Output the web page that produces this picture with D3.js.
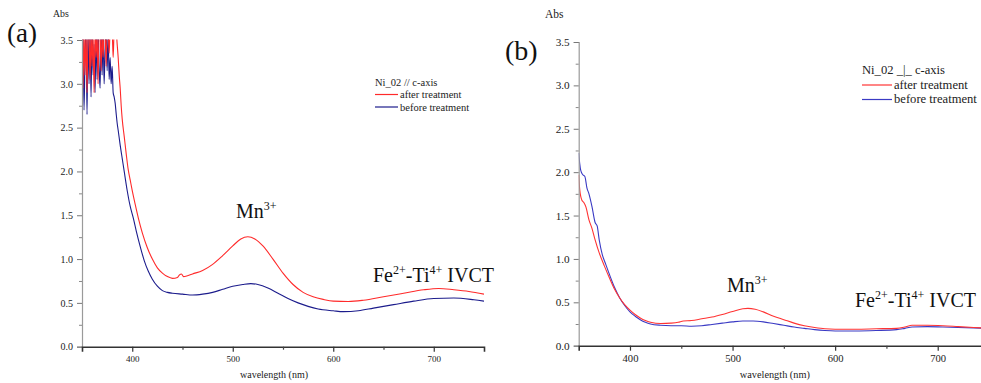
<!DOCTYPE html>
<html>
<head>
<meta charset="utf-8">
<script src="https://cdn.jsdelivr.net/npm/d3@7"></script>
<style>
  body { margin: 0; background: #fff; }
  svg { display: block; }
  svg text { font-family: "Liberation Serif", "Tinos", "DejaVu Serif", serif; }
</style>
</head>
<body>
<svg id="chart" width="981" height="383"></svg>
<script>
// Absorbance spectra of Ni_02 before and after treatment, two polarisations.
const yTicks = [0, 0.5, 1.0, 1.5, 2.0, 2.5, 3.0, 3.5];
const yMinorTicks = [0.25, 0.75, 1.25, 1.75, 2.25, 2.75, 3.25];
const xTicks = [400, 500, 600, 700];
const xMinorTicks = [450, 550, 650];
const seriesNames = ["after treatment", "before treatment"];
const panelTitles = ["Ni_02 // c-axis", "Ni_02 _|_ c-axis"];

// [wavelength (nm), Abs] — E // c
const aAfter = [
  [350,3.6],[351,2.95],[352,3.6],[353,3.1],[354,3.6],[355,2.9],[356,3.55],[357,3.6],[358,3.05],[359,3.6],
  [360,3.2],[361,3.6],[362,2.9],[363,3.6],[364,3.3],[365,3.6],[366,3.0],[367,3.6],[368,3.6],[369,3.15],
  [370,3.6],[371,3.3],[372,3.6],[373,3.6],[374,3.2],[375,3.6],[376,3.6],[377,3.35],[378,3.6],[379,3.6],
  [380,3.6],[381,3.3],[382,3.6],[383,3.6],[384,3.6],[385,3.45],[386,3.3],[387,3.1],[388,2.95],[389,2.75],
  [390,2.6],[392,2.4],[394,2.2],[396,2.02],[398,1.9],[400,1.78],[403,1.62],[406,1.47],[410,1.3],[415,1.13],
  [420,1.0],[425,0.9],[430,0.84],[435,0.8],[440,0.78],[445,0.79],[447,0.82],[449,0.83],[451,0.8],[455,0.81],
  [460,0.83],[470,0.87],[480,0.94],[490,1.04],[500,1.15],[508,1.23],[515,1.255],[522,1.23],[530,1.15],[540,1.0],
  [550,0.84],[560,0.71],[570,0.62],[580,0.57],[590,0.54],[600,0.52],[615,0.515],[630,0.53],[650,0.57],[670,0.61],
  [690,0.65],[705,0.665],[720,0.65],[735,0.63],[750,0.6]
];
const aBefore = [
  [350,2.75],[351,3.6],[352,2.7],[353,3.3],[354,3.6],[355,2.65],[356,3.6],[357,3.0],[358,3.6],[359,2.85],
  [360,3.6],[361,3.1],[362,3.45],[363,2.9],[364,3.6],[365,3.05],[366,3.6],[367,3.2],[368,2.95],[369,3.6],
  [370,3.1],[371,3.6],[372,3.0],[373,3.4],[374,3.6],[375,3.15],[376,3.6],[377,3.05],[378,3.3],[379,3.0],
  [380,3.2],[381,2.9],[382,2.85],[383,2.78],[384,2.66],[385,2.55],[386,2.47],[388,2.3],[390,2.15],[392,2.0],
  [395,1.78],[398,1.6],[401,1.47],[404,1.32],[408,1.14],[412,0.98],[416,0.86],[420,0.77],[425,0.69],[430,0.64],
  [435,0.62],[440,0.61],[450,0.6],[460,0.59],[470,0.6],[480,0.62],[490,0.655],[500,0.69],[510,0.71],[518,0.72],
  [525,0.71],[535,0.67],[545,0.61],[555,0.55],[565,0.5],[575,0.46],[585,0.43],[600,0.41],[610,0.4],[625,0.41],
  [640,0.44],[660,0.48],[680,0.52],[700,0.55],[720,0.555],[740,0.535],[750,0.52]
];
// [wavelength (nm), Abs] — E ⊥ c
const bAfter = [
  [350,1.97],[351,1.8],[352,1.72],[353,1.68],[355,1.65],[357,1.6],[360,1.45],[363,1.35],[366,1.22],[370,1.07],
  [375,0.92],[380,0.78],[385,0.65],[390,0.55],[395,0.47],[400,0.41],[405,0.36],[410,0.32],[415,0.29],[420,0.27],
  [430,0.255],[440,0.26],[447,0.27],[452,0.285],[460,0.29],[470,0.31],[480,0.33],[490,0.36],[500,0.395],[510,0.425],
  [515,0.43],[522,0.42],[530,0.39],[540,0.34],[550,0.3],[560,0.26],[570,0.23],[580,0.21],[590,0.195],[600,0.19],
  [620,0.19],[640,0.195],[660,0.2],[668,0.215],[675,0.235],[690,0.235],[705,0.23],[720,0.22],[735,0.21],[750,0.2]
];
const bBefore = [
  [350,2.22],[351,2.1],[352,2.02],[354,1.97],[356,1.95],[358,1.82],[360,1.75],[363,1.6],[366,1.42],[368,1.38],
  [370,1.22],[373,1.05],[376,0.95],[380,0.82],[385,0.67],[390,0.55],[395,0.46],[400,0.39],[405,0.34],[410,0.3],
  [415,0.27],[420,0.25],[430,0.235],[440,0.23],[450,0.23],[460,0.225],[470,0.23],[480,0.245],[490,0.26],[500,0.275],
  [510,0.285],[520,0.285],[530,0.275],[540,0.255],[550,0.235],[560,0.215],[570,0.2],[580,0.185],[590,0.175],[600,0.17],
  [620,0.17],[640,0.175],[660,0.185],[668,0.2],[675,0.215],[690,0.22],[705,0.215],[720,0.21],[735,0.205],[750,0.2]
];

const FONT = "'Liberation Serif', Tinos, 'DejaVu Serif', serif";
const svg = d3.select("#chart");

const panels = [
  {
    id: "a", letter: "(a)", letterX: 7, letterY: 42, letterSize: 27,
    absX: 53, absY: 17, absSize: 9.8,
    left: 82, right: 484, top: 40, bottom: 346.7,
    tickFont: 10, xTickFont: 9, xLabelY: 378, xLabelFont: 10,
    title: panelTitles[0], legX: 375, legY: 82, legGap: 12.5, legLine: 23, legFont: 10.5,
    after: aAfter, before: aBefore,
    colors: ["#ff2a2a", "#1c1c8c"],
    mn: { x: 236, y: 218 }, fe: { x: 373, y: 281.5 }
  },
  {
    id: "b", letter: "(b)", letterX: 505, letterY: 60, letterSize: 28,
    absX: 545, absY: 18, absSize: 11.5,
    left: 578.7, right: 989, top: 42, bottom: 345.7,
    tickFont: 11.2, xTickFont: 10.6, xLabelY: 378, xLabelFont: 10.3,
    title: panelTitles[1], legX: 862, legY: 70.5, legGap: 14.5, legLine: 30, legFont: 12.6,
    after: bAfter, before: bBefore,
    colors: ["#ff3333", "#3a3ac4"],
    mn: { x: 727, y: 291.5 }, fe: { x: 855, y: 306.5 }
  }
];

panels.forEach(p => {
  const g = svg.append("g").attr("class", "panel-" + p.id).attr("font-family", FONT);
  const x = d3.scaleLinear().domain([350, 750]).range([p.left, p.right]);
  const y = d3.scaleLinear().domain([0, 3.5]).range([p.bottom, p.top]);

  // plot-area clip so off-scale readings are cut at the top
  const clipId = "clip-" + p.id;
  svg.append("clipPath").attr("id", clipId)
    .append("rect")
    .attr("x", p.left).attr("y", p.top - 0.5)
    .attr("width", p.right - p.left).attr("height", p.bottom - p.top + 0.5);

  const line = d3.line()
    .x(d => x(d[0]))
    .y(d => y(d[1]))
    .curve(d3.curveMonotoneX);

  const curves = g.append("g").attr("clip-path", `url(#${clipId})`);
  [p.before, p.after].forEach((s, i) => {
    curves.append("path")
      .datum(s)
      .attr("fill", "none")
      .attr("stroke", i === 0 ? p.colors[1] : p.colors[0])
      .attr("stroke-width", 1.1)
      .attr("stroke-linejoin", "round")
      .attr("d", line);
  });

  // y axis (major + minor)
  const yAxis = g.append("g").attr("transform", `translate(${p.left},0)`)
    .call(d3.axisLeft(y).tickValues(yTicks).tickSize(5).tickPadding(4)
      .tickFormat(d3.format(".1f")));
  yAxis.attr("font-family", FONT);
  yAxis.select(".domain").attr("stroke", "#9a9a9a").attr("stroke-width", 1.2);
  yAxis.selectAll(".tick line").attr("stroke", "#777");
  yAxis.selectAll(".tick text")
    .attr("font-family", FONT)
    .attr("font-size", p.tickFont).attr("fill", "#222");
  const yMinor = g.append("g").attr("transform", `translate(${p.left},0)`)
    .call(d3.axisLeft(y).tickValues(yMinorTicks).tickSize(3).tickFormat(""));
  yMinor.select(".domain").remove();
  yMinor.selectAll(".tick line").attr("stroke", "#888");

  // x axis (major + minor)
  const xAxis = g.append("g").attr("transform", `translate(0,${p.bottom})`)
    .call(d3.axisBottom(x).tickValues(xTicks).tickSize(5).tickPadding(4)
      .tickFormat(d3.format("d")));
  xAxis.attr("font-family", FONT);
  xAxis.select(".domain").attr("stroke", "#333").attr("stroke-width", 1.6);
  xAxis.selectAll(".tick line").attr("stroke", "#333").attr("stroke-width", 1.2);
  xAxis.selectAll(".tick text")
    .attr("font-family", FONT)
    .attr("font-size", p.xTickFont).attr("fill", "#222");
  const xMinor = g.append("g").attr("transform", `translate(0,${p.bottom})`)
    .call(d3.axisBottom(x).tickValues(xMinorTicks).tickSize(3).tickFormat(""));
  xMinor.select(".domain").remove();
  xMinor.selectAll(".tick line").attr("stroke", "#444").attr("stroke-width", 1.2);

  // axis titles
  g.append("text").attr("x", p.absX).attr("y", p.absY)
    .attr("font-size", p.absSize).attr("fill", "#222").text("Abs");
  g.append("text")
    .attr("x", (x(500) + x(600)) / 2 - 9).attr("y", p.xLabelY)
    .attr("text-anchor", "middle")
    .attr("font-size", p.xLabelFont).attr("fill", "#222")
    .text("wavelength (nm)");

  // panel letter
  g.append("text").attr("x", p.letterX).attr("y", p.letterY)
    .attr("font-size", p.letterSize).attr("fill", "#111").text(p.letter);

  // legend
  const leg = g.append("g").attr("font-size", p.legFont).attr("fill", "#222");
  leg.append("text").attr("x", p.legX).attr("y", p.legY + 3.5).text(p.title);
  seriesNames.forEach((name, i) => {
    const ly = p.legY + p.legGap * (i + 1);
    leg.append("line")
      .attr("x1", p.legX).attr("x2", p.legX + p.legLine)
      .attr("y1", ly).attr("y2", ly)
      .attr("stroke", p.colors[i]).attr("stroke-width", 1.2);
    leg.append("text").attr("x", p.legX + p.legLine + 2).attr("y", ly + 3.5).text(name);
  });

  // band assignments
  const mn = g.append("text").attr("x", p.mn.x).attr("y", p.mn.y)
    .attr("font-size", 20).attr("fill", "#111");
  mn.append("tspan").text("Mn");
  mn.append("tspan").attr("font-size", 12).attr("dy", -8).text("3+");

  const fe = g.append("text").attr("x", p.fe.x).attr("y", p.fe.y)
    .attr("font-size", 20).attr("fill", "#111");
  fe.append("tspan").text("Fe");
  fe.append("tspan").attr("font-size", 12).attr("dy", -8).text("2+");
  fe.append("tspan").attr("dy", 8).text("-Ti");
  fe.append("tspan").attr("font-size", 12).attr("dy", -8).text("4+");
  fe.append("tspan").attr("dy", 8).text(" IVCT");
});
</script>
</body>
</html>
